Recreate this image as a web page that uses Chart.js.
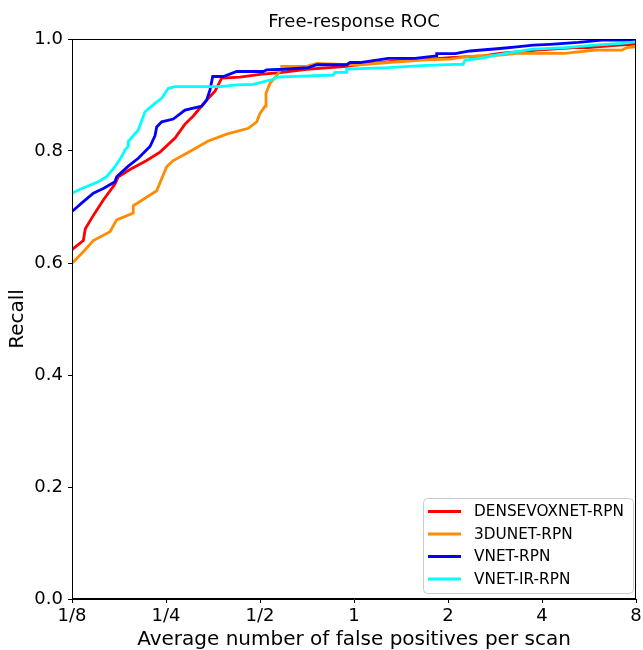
<!DOCTYPE html>
<html>
<head>
<meta charset="utf-8">
<script src="https://cdn.jsdelivr.net/npm/chart.js@4.4.1/dist/chart.umd.min.js"></script>
<style>
html,body{margin:0;padding:0;background:#fff;}
#wrap{width:643px;height:650px;}
</style>
</head>
<body>
<div id="wrap"><canvas id="c" width="643" height="650"></canvas></div>
<script>
const FONT = "'DejaVu Sans', sans-serif";

const chartTitle = 'Free-response ROC';
const seriesNames = ['DENSEVOXNET-RPN', '3DUNET-RPN', 'VNET-RPN', 'VNET-IR-RPN'];
const seriesColors = ['#ff0000', '#ff8c00', '#0000ff', '#00ffff'];

const xTickValues = [0.125, 0.25, 0.5, 1, 2, 4, 8];
const xTickLabels = ['1/8', '1/4', '1/2', '1', '2', '4', '8'];
const yTickValues = [0, 0.2, 0.4, 0.6, 0.8, 1.0];

// DENSEVOXNET-RPN
const denseFP = [0.125,0.1359,0.1379,0.1463,0.1575,0.1716,0.1759,0.1917,0.2168,0.2392,0.2672,0.2876,0.3057,0.3375,0.3588,0.3770,0.4314,0.5,0.5795,0.7056,0.8378,0.9477,1.0710,1.1529,1.3701,1.7515,2.030,2.595,2.935,3.847,5.1025,5.628,6.688,8];
const denseRecall = [0.624,0.640,0.661,0.685,0.7125,0.741,0.754,0.767,0.783,0.798,0.823,0.848,0.8625,0.891,0.907,0.930,0.932,0.937,0.940,0.946,0.949,0.951,0.955,0.957,0.961,0.964,0.9667,0.970,0.9744,0.980,0.9845,0.9845,0.988,0.991];

// 3DUNET-RPN
const unetFP = [0.125,0.1359,0.1463,0.1654,0.1738,0.1964,0.1964,0.2334,0.2513,0.2638,0.2912,0.3415,0.3911,0.4587,0.4880,0.5,0.5188,0.5226,0.5383,0.5655,0.5868,0.5868,0.7056,0.7596,1.0074,1.2877,1.6475,2.030,2.2955,2.935,3.320,4.739,5.228,5.913,7.20,7.47,8];
const unetRecall = [0.5995,0.620,0.640,0.656,0.677,0.689,0.702,0.729,0.772,0.783,0.796,0.818,0.830,0.8405,0.852,0.867,0.880,0.903,0.921,0.9345,0.948,0.951,0.951,0.9565,0.9536,0.958,0.9625,0.964,0.9684,0.9714,0.9744,0.9744,0.977,0.980,0.980,0.9845,0.986];

// VNET-RPN
const vnetFP = [0.125,0.1359,0.1463,0.1575,0.1716,0.1738,0.1893,0.2038,0.2141,0.2222,0.2305,0.2334,0.2422,0.2638,0.2876,0.3253,0.3375,0.3458,0.3528,0.3815,0.4211,0.5123,0.5253,0.5938,0.7140,0.7596,0.9477,0.9710,1.0452,1.1111,1.2877,1.568,1.840,1.840,2.106,2.352,2.935,3.320,3.7515,4.243,5.228,6.212,8];
const vnetRecall = [0.692,0.7095,0.7245,0.733,0.745,0.754,0.773,0.787,0.799,0.808,0.827,0.843,0.852,0.857,0.873,0.880,0.891,0.909,0.933,0.933,0.942,0.942,0.945,0.946,0.949,0.954,0.954,0.958,0.958,0.960,0.9655,0.9655,0.970,0.974,0.974,0.9786,0.983,0.986,0.989,0.9905,0.994,0.998,0.998];

// VNET-IR-RPN
const vnetIrFP = [0.125,0.1326,0.1518,0.1614,0.1716,0.1803,0.1848,0.1893,0.1893,0.2038,0.2141,0.2305,0.2422,0.2543,0.2672,0.3723,0.4211,0.4760,0.5,0.5515,0.5655,0.8584,0.8693,0.9477,0.9477,1.0452,1.2877,1.6475,2.106,2.239,2.267,2.532,2.935,3.320,3.7515,4.243,4.739,5.913,7.20,8];
const vnetIrRecall = [0.7245,0.7316,0.745,0.754,0.772,0.790,0.802,0.808,0.817,0.8375,0.870,0.885,0.894,0.912,0.915,0.915,0.918,0.919,0.922,0.928,0.932,0.9357,0.9405,0.9405,0.9464,0.947,0.9488,0.9524,0.9548,0.9548,0.9625,0.9655,0.9726,0.9774,0.982,0.9833,0.9845,0.989,0.992,0.995];

const allFP = [denseFP, unetFP, vnetFP, vnetIrFP];
const allRecall = [denseRecall, unetRecall, vnetRecall, vnetIrRecall];

const datasets = seriesNames.map((name, i) => ({
  label: name,
  data: allFP[i].map((x, j) => ({x: x, y: allRecall[i][j]})),
  borderColor: seriesColors[i],
  backgroundColor: seriesColors[i],
  borderWidth: 2.8,
  pointRadius: 0,
  tension: 0,
  fill: false,
  order: 3 - i
}));

const framePlugin = {
  id: 'frame',
  afterDatasetsDraw(chart) {
    const a = chart.chartArea, ctx = chart.ctx;
    ctx.save();
    ctx.strokeStyle = '#000';
    ctx.lineWidth = 1;
    ctx.strokeRect(Math.round(a.left) + 0.5, Math.round(a.top) + 0.5, Math.round(a.right - a.left) - 1, Math.round(a.bottom - a.top) - 1);
    ctx.restore();
  }
};

const titlePlugin = {
  id: 'areaTitle',
  afterDraw(chart) {
    const a = chart.chartArea, ctx = chart.ctx;
    ctx.save();
    ctx.font = '18px ' + FONT;
    ctx.fillStyle = '#000';
    ctx.textAlign = 'center';
    ctx.textBaseline = 'alphabetic';
    ctx.fillText(chartTitle, (a.left + a.right) / 2, a.top - 12);
    ctx.restore();
  }
};

const legendPlugin = {
  id: 'boxLegend',
  afterDraw(chart) {
    const ctx = chart.ctx, a = chart.chartArea;
    const bw = 210, bh = 95;
    const bx = a.right - 3 - bw, by = a.bottom - 6 - bh;
    ctx.save();
    ctx.beginPath();
    if (ctx.roundRect) ctx.roundRect(bx + 0.5, by + 0.5, bw, bh, 4); else ctx.rect(bx + 0.5, by + 0.5, bw, bh);
    ctx.fillStyle = 'rgba(255,255,255,0.8)';
    ctx.fill();
    ctx.strokeStyle = '#cccccc';
    ctx.lineWidth = 1;
    ctx.stroke();
    ctx.font = '15.3px ' + FONT;
    ctx.textBaseline = 'middle';
    ctx.textAlign = 'left';
    chart.data.datasets.forEach((ds, i) => {
      const y = by + 13.5 + i * 22.5;
      ctx.strokeStyle = ds.borderColor;
      ctx.lineWidth = 2.8;
      ctx.beginPath();
      ctx.moveTo(bx + 5, y);
      ctx.lineTo(bx + 38, y);
      ctx.stroke();
      ctx.fillStyle = '#000';
      ctx.fillText(ds.label, bx + 51, y + 1);
    });
    ctx.restore();
  }
};

new Chart(document.getElementById('c'), {
  type: 'line',
  data: { datasets: datasets },
  options: {
    responsive: false,
    animation: false,
    events: [],
    layout: { padding: { left: 0, right: 7, top: 39, bottom: 0 } },
    plugins: {
      legend: { display: false },
      tooltip: { enabled: false },
      title: { display: false }
    },
    scales: {
      x: {
        type: 'logarithmic',
        min: 0.125,
        max: 8,
        afterBuildTicks(scale) { scale.ticks = xTickValues.map(v => ({ value: v })); },
        afterFit(scale) { scale.height = 51; scale.paddingRight = 0; scale.paddingLeft = 0; },
        ticks: {
          autoSkip: false, maxRotation: 0, color: '#000', padding: 3,
          font: { family: FONT, size: 18 },
          callback(value) { const k = xTickValues.indexOf(value); return k >= 0 ? xTickLabels[k] : ''; }
        },
        grid: { drawOnChartArea: false, drawTicks: true, tickLength: 4, color: '#000', tickWidth: 1 },
        border: { display: true, color: '#000', width: 1 },
        title: {
          display: true, text: 'Average number of false positives per scan', color: '#000',
          font: { family: FONT, size: 20, lineHeight: 1.2 }, padding: { top: 0, bottom: -2 }
        }
      },
      y: {
        type: 'linear',
        min: 0,
        max: 1,
        afterBuildTicks(scale) { scale.ticks = yTickValues.map(v => ({ value: v })); },
        afterFit(scale) { scale.width = 72; scale.paddingTop = 0; scale.paddingBottom = 0; },
        ticks: {
          color: '#000', padding: 5,
          font: { family: FONT, size: 18 },
          callback(value) { return Number(value).toFixed(1); }
        },
        grid: { drawOnChartArea: false, drawTicks: true, tickLength: 4, color: '#000', tickWidth: 1 },
        border: { display: true, color: '#000', width: 1 },
        title: {
          display: true, text: 'Recall', color: '#000',
          font: { family: FONT, size: 20, lineHeight: 1.2 }, padding: { top: 6, bottom: 0 }
        }
      }
    }
  },
  plugins: [framePlugin, titlePlugin, legendPlugin]
});
</script>
</body>
</html>
